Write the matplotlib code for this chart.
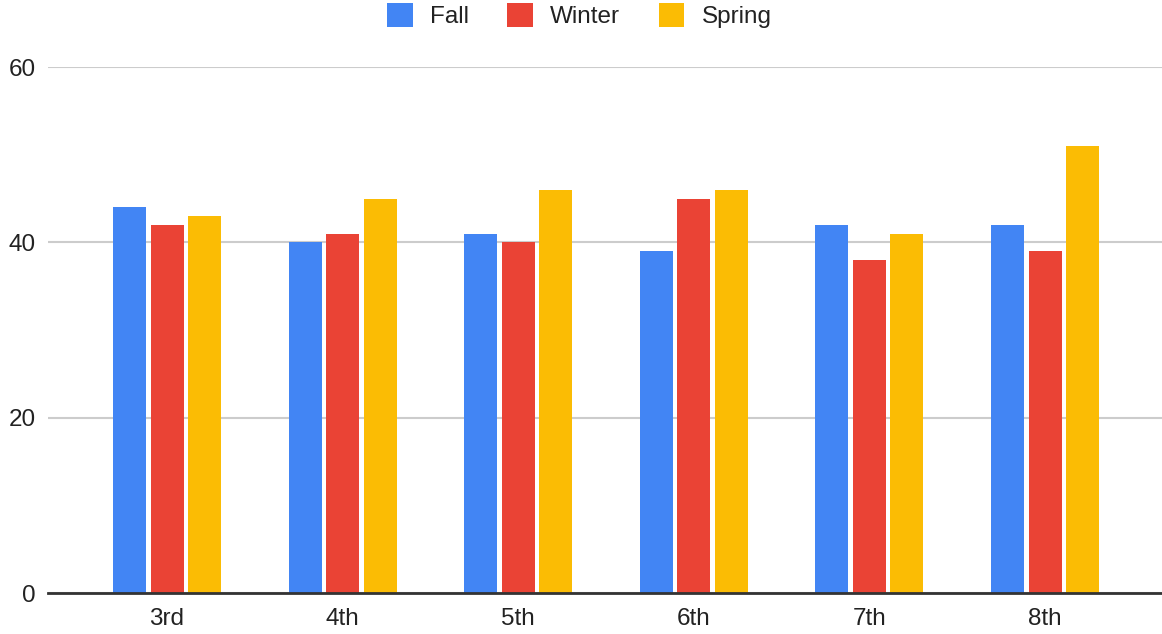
import numpy as np
import matplotlib.pyplot as plt

# grade levels and scores per term
grades = ['3rd', '4th', '5th', '6th', '7th', '8th']
fall = [44, 40, 41, 39, 42, 42]
winter = [42, 41, 40, 45, 38, 39]
spring = [43, 45, 46, 46, 41, 51]

series = [('Fall', fall, '#4285F4'),
          ('Winter', winter, '#EA4335'),
          ('Spring', spring, '#FBBC04')]

plt.rcParams['font.family'] = ['Liberation Sans', 'DejaVu Sans']

fig = plt.figure(figsize=(11.62, 6.34), dpi=100)
ax = fig.add_axes([48 / 1162, 41 / 634, 1 - 48 / 1162, (593 - 67) / 634])

x = np.arange(len(grades))
step = 0.2135
width = 0.188
for i, (name, vals, col) in enumerate(series):
    ax.bar(x + (i - 1) * step, vals, width, color=col, label=name, zorder=3)

ax.set_xlim(-0.678, 5.666)
ax.set_ylim(0, 60)
ax.set_yticks([0, 20, 40, 60])
ax.set_xticks(x)
ax.set_xticklabels(grades)
ax.yaxis.grid(True, color='#cccccc', linewidth=1.5, zorder=0)
ax.set_axisbelow(True)

for s in ['top', 'right', 'left']:
    ax.spines[s].set_visible(False)
ax.spines['bottom'].set_color('#333333')
ax.spines['bottom'].set_linewidth(2)
ax.spines['bottom'].set_zorder(4)

ax.tick_params(axis='both', length=0, labelsize=17.5, labelcolor='#222222')
ax.tick_params(axis='y', pad=9)
ax.tick_params(axis='x', pad=11)

fig.legend(loc='upper center', bbox_to_anchor=(0.4985, 1.03), ncol=3, frameon=False,
           fontsize=17.5, handlelength=1.05, handleheight=1.15,
           handletextpad=0.7, columnspacing=1.6, labelcolor='#222222')

fig.savefig('out.png', dpi=100)
